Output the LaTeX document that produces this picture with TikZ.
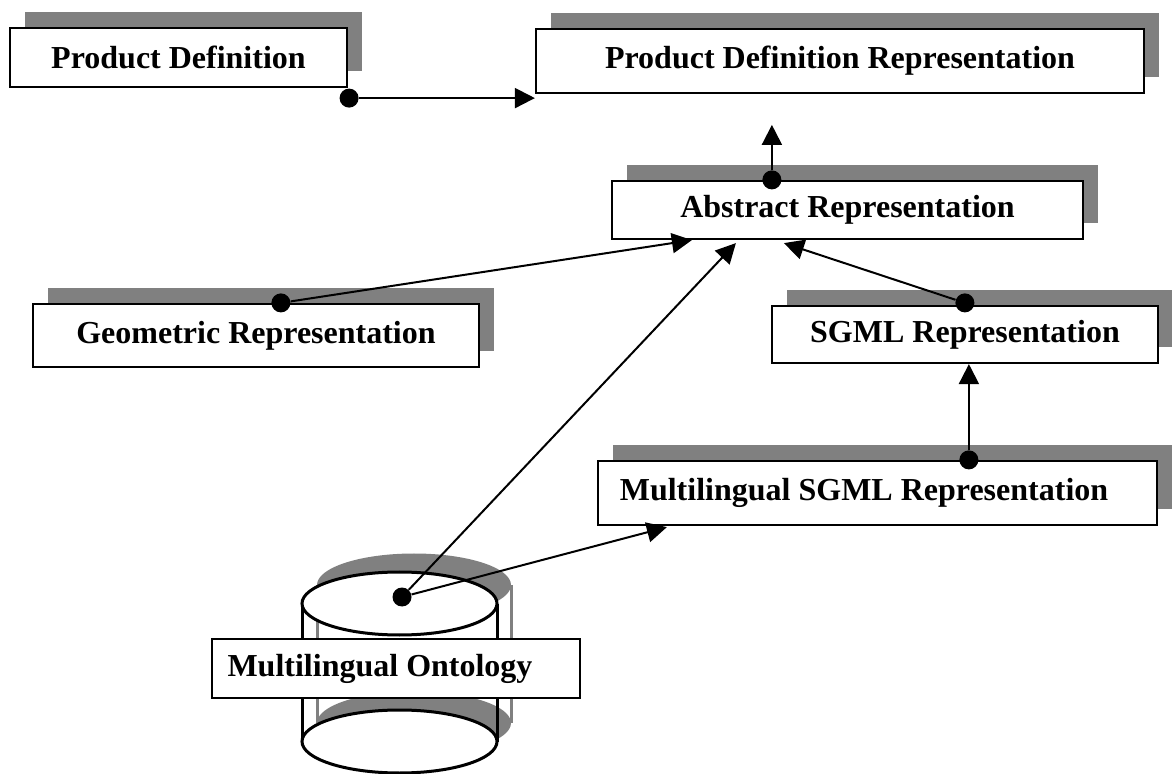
\documentclass[tikz,border=0pt]{standalone}
\usepackage{fontspec}
\setmainfont{Liberation Serif}
\usetikzlibrary{arrows.meta,shadows,calc}
\definecolor{shadowgrey}{RGB}{128,128,128}
\tikzset{
  entity/.style={draw, line width=1.1pt, fill=white, inner sep=0pt,
    font=\fontsize{16}{19}\selectfont\bfseries},
  shadowed/.style={general shadow={fill=shadowgrey, shadow xshift=7.5pt, shadow yshift=8pt}},
  joint/.style={circle, fill, inner sep=0pt, minimum size=9.5pt},
  link/.style={line width=1pt, -{Triangle[length=10pt,width=10pt]}},
}

\begin{document}
\begin{tikzpicture}[x=0.5pt,y=-0.5pt]
	\useasboundingbox (0,0) rectangle (1172,774);

	% the ontology store
	\fill[shadowgrey] (414,585) ellipse (97 and 31.5);
	\fill[shadowgrey] (414,723) ellipse (97 and 31.5);
	\draw[shadowgrey, line width=1.5pt] (317,585) -- (317,723) (511,585) -- (511,723);
	\draw[line width=1.5pt] (302,603.5) -- (302,741.5) (497,603.5) -- (497,741.5);
	\draw[fill=white, line width=1.5pt] (399.5,603.5) ellipse (97.5 and 31.5);
	\draw[fill=white, line width=1.5pt] (399.5,741.5) ellipse (97.5 and 31.5);

	\node[entity, shadowed, minimum width=168.5pt, minimum height=29.5pt] (pd) at (178.5,57.5) {Product Definition};
	\node[entity, shadowed, minimum width=304pt, minimum height=32pt] (pdr) at (840,61) {Product Definition Representation};
	\node[entity, shadowed, minimum width=235.5pt, minimum height=29pt] (abs) at (847.5,210) {Abstract Representation};
	\node[entity, shadowed, minimum width=223pt, minimum height=31.5pt] (geo) at (256,335.5) {Geometric Representation};
	\node[entity, shadowed, minimum width=193pt, minimum height=28.5pt] (sgml) at (965,334.5) {SGML Representation};
	\node[entity, shadowed, minimum width=279.5pt, minimum height=32pt] (msgml) at (877.5,493) {Multilingual SGML Representation\hspace*{13.5pt}};
	\node[entity, minimum width=184pt, minimum height=29.5pt] (onto) at (396,668.5) {Multilingual Ontology\hspace*{16pt}};

	% start points of the links
	\node[joint] (pdout) at ($(pd.south east)+(1,10)$) {};
	\node[joint] (absout) at ($(abs.north west)+(161,0)$) {};
	\node[joint] (geoout) at ($(geo.north west)+(249,0)$) {};
	\node[joint] (sgmlout) at ($(sgml.north west)+(194,-2)$) {};
	\node[joint] (msgmlout) at ($(msgml.north west)+(372,0)$) {};
	\node[joint] (ontoout) at (402,597) {};

	\coordinate (pdrin) at ($(absout)+(0,-55)$);

	\draw[link] (pdout) -- (pdout -| pdr.west);
	\draw[link] (absout) -- (pdrin);
	\draw[link] (geoout) -- ($(abs.south west)+(81,0)$);
	\draw[link] (ontoout) -- ($(abs.south west)+(125,3)$);
	\draw[link] (sgmlout) -- ($(abs.south west)+(173,3)$);
	\draw[link] (msgmlout) -- (msgmlout |- sgml.south);
	\draw[link] (ontoout) -- ($(msgml.south west)+(70,1)$);
\end{tikzpicture}
\end{document}
